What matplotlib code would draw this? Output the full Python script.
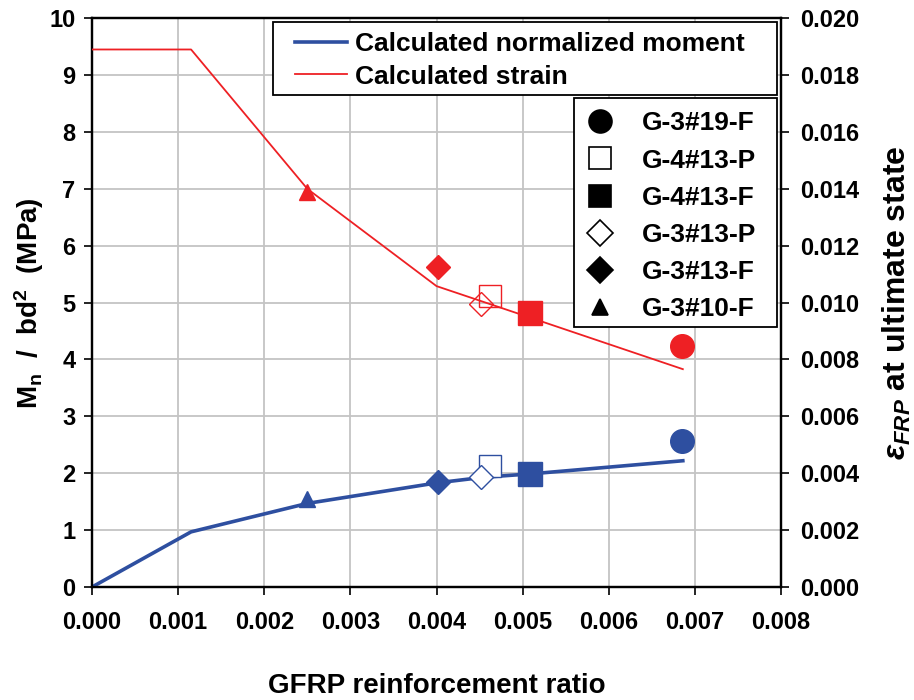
import matplotlib
matplotlib.use("Agg")
import matplotlib.pyplot as plt
from matplotlib.lines import Line2D
from matplotlib.patches import Rectangle

# ---------------- data ----------------
x_calc = [0.0, 0.00115, 0.0025, 0.0040, 0.00455, 0.0051, 0.00686]
moment_calc = [0.0, 0.97, 1.47, 1.83, 1.93, 1.99, 2.22]
strain_calc = [0.0189, 0.0189, 0.0140, 0.01058, 0.01002, 0.00946, 0.00766]

specimens = ['G-3#19-F', 'G-4#13-P', 'G-4#13-F', 'G-3#13-P', 'G-3#13-F', 'G-3#10-F']
ratio = [0.00685, 0.00462, 0.00509, 0.00452, 0.00402, 0.0025]
moment_test = [2.57, 2.13, 1.99, 1.93, 1.85, 1.55]
strain_test = [0.00848, 0.01022, 0.00964, 0.00994, 0.01124, 0.0139]

x_ticks = [0.000, 0.001, 0.002, 0.003, 0.004, 0.005, 0.006, 0.007, 0.008]
left_ticks = [0, 1, 2, 3, 4, 5, 6, 7, 8, 9, 10]
right_ticks = [0.000, 0.002, 0.004, 0.006, 0.008, 0.010, 0.012, 0.014, 0.016, 0.018, 0.020]

# ---------------- style ----------------
plt.rcParams['font.family'] = ['Liberation Sans', 'DejaVu Sans']
plt.rcParams['font.weight'] = 'bold'
plt.rcParams['mathtext.fontset'] = 'custom'
plt.rcParams['mathtext.rm'] = 'Liberation Sans:bold'
plt.rcParams['mathtext.it'] = 'Liberation Sans:italic:bold'
plt.rcParams['mathtext.bf'] = 'Liberation Sans:bold'
plt.rcParams['mathtext.sf'] = 'Liberation Sans'

BLUE = '#2E4FA0'
RED = '#EE2024'
markers = ['o', 's', 's', 'D', 'D', '^']
filled = [True, False, True, False, True, True]
msizes = [17, 16, 17, 12, 12.5, 11]
leg_msizes = [16.5, 15.5, 16, 13, 13, 12]

fig = plt.figure(figsize=(9.14, 7.0), dpi=100)
ax = fig.add_axes([0.1007, 0.1614, 0.7538, 0.8126])
ax2 = ax.twinx()

# calculated lines
ax.plot(x_calc, moment_calc, color=BLUE, lw=2.6, zorder=3)
ax2.plot(x_calc, strain_calc, color=RED, lw=1.3, zorder=3)

for xi, m, s, mk, f, ms in zip(ratio, moment_test, strain_test, markers, filled, msizes):
    ax.plot([xi], [m], linestyle='none', marker=mk, markersize=ms,
            markerfacecolor=BLUE if f else 'white', markeredgecolor=BLUE,
            markeredgewidth=1.0, zorder=4)
    ax2.plot([xi], [s], linestyle='none', marker=mk, markersize=ms,
             markerfacecolor=RED if f else 'none', markeredgecolor=RED,
             markeredgewidth=1.0, zorder=4)

ax.set_xlim(0, 0.008)
ax.set_ylim(0, 10)
ax2.set_ylim(0, 0.020)
ax.set_xticks(x_ticks)
ax.set_xticklabels([f'{v:.3f}' for v in x_ticks])
ax.set_yticks(left_ticks)
ax2.set_yticks(right_ticks)
ax2.set_yticklabels([f'{v:.3f}' for v in right_ticks])

ax.grid(True, color='#C4C4C4', lw=1.3)
ax.set_axisbelow(True)

for a in (ax, ax2):
    for sp in a.spines.values():
        sp.set_linewidth(1.6)
        sp.set_color('black')

ax.tick_params(axis='x', direction='out', length=6, width=1.2, pad=11, labelsize=17)
ax.tick_params(axis='y', direction='out', length=6, width=1.2, pad=6, labelsize=17)
ax2.tick_params(axis='y', direction='out', length=6, width=1.2, pad=8, labelsize=17)

ax.set_xlabel('GFRP reinforcement ratio', fontsize=20, fontweight='bold', labelpad=28)
ax.set_ylabel(r'M$_\mathregular{n}$  $\mathsf{/}$  bd$^\mathregular{2}$  (MPa)', fontsize=20,
              fontweight='bold', labelpad=2)
ax2.set_ylabel(r'$\varepsilon_{FRP}$ at ultimate state', fontsize=23,
               fontweight='bold', labelpad=15)

# legend frames (drawn as rectangles for exact placement)
ax2.add_patch(Rectangle((0.262, 0.865), 0.732, 0.128, transform=ax2.transAxes,
                        facecolor='white', edgecolor='black', lw=1.3,
                        clip_on=False, zorder=5))
ax2.add_patch(Rectangle((0.699, 0.457), 0.295, 0.402, transform=ax2.transAxes,
                        facecolor='white', edgecolor='black', lw=1.3,
                        clip_on=False, zorder=5))

h1 = [Line2D([], [], color=BLUE, lw=2.6), Line2D([], [], color=RED, lw=1.3)]
leg1 = ax2.legend(h1, ['Calculated normalized moment', 'Calculated strain'],
                  loc='upper left', bbox_to_anchor=(0.294, 0.976),
                  fontsize=19, frameon=False,
                  handlelength=2.0, handletextpad=0.3, labelspacing=0.33,
                  borderpad=0, borderaxespad=0)
leg1.set_zorder(6)
for t in leg1.get_texts():
    t.set_fontweight('bold')
ax2.add_artist(leg1)

h2 = [Line2D([], [], linestyle='none', marker=mk, markersize=ms,
             markerfacecolor='black' if f else 'white', markeredgecolor='black',
             markeredgewidth=1.2)
      for mk, f, ms in zip(markers, filled, leg_msizes)]
leg2 = ax2.legend(h2, specimens, loc='upper left', bbox_to_anchor=(0.708, 0.836),
                  fontsize=19, frameon=False,
                  handlelength=1.5, handletextpad=0.84, labelspacing=0.5,
                  borderpad=0, borderaxespad=0)
leg2.set_zorder(6)
for t in leg2.get_texts():
    t.set_fontweight('bold')

fig.savefig('out.png', dpi=100)
